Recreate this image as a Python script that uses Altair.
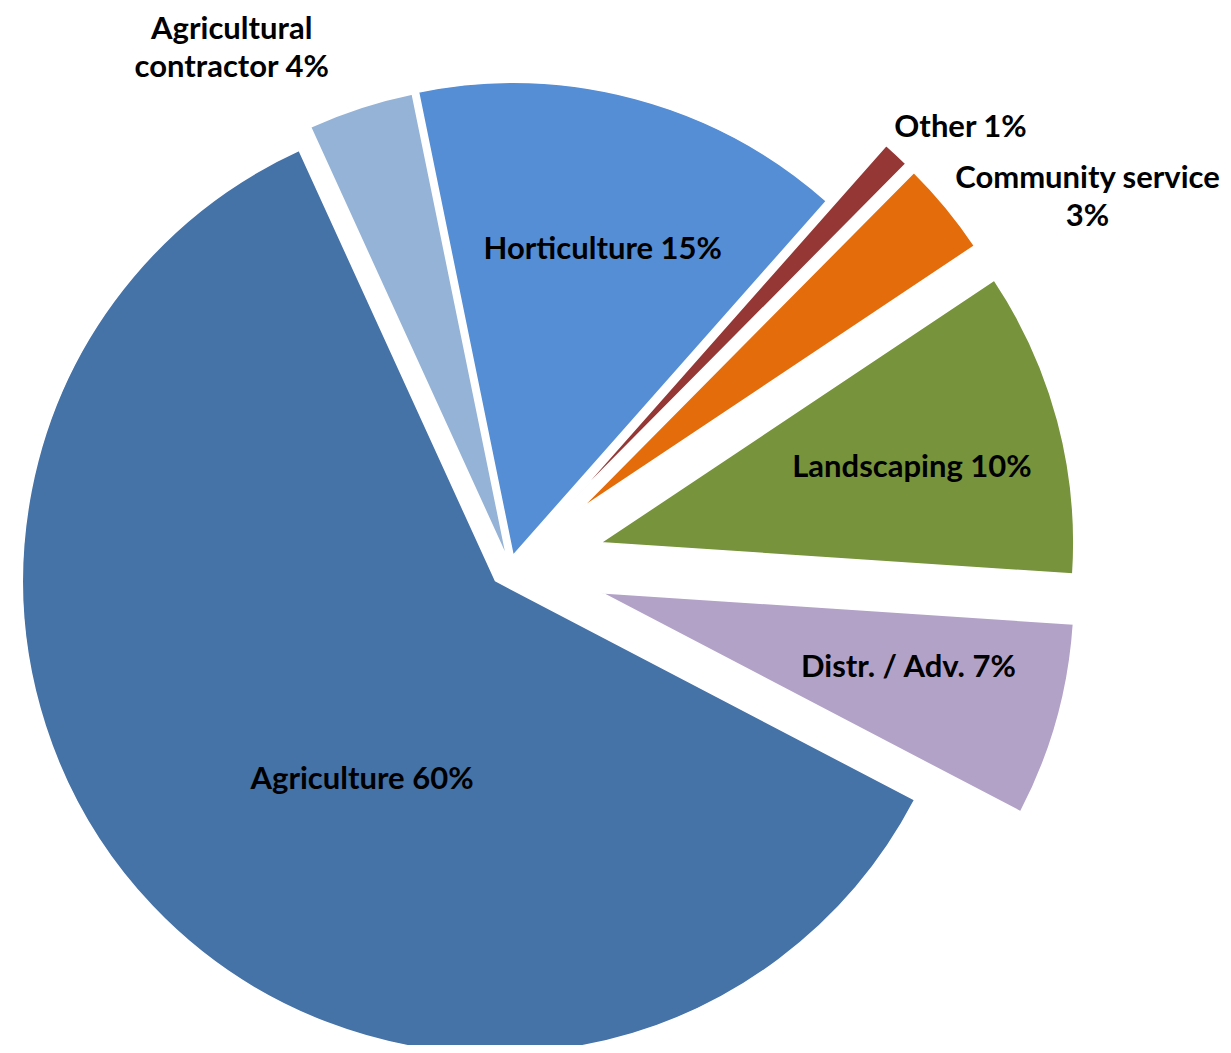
import math
import altair as alt
import pandas as pd

# ---- data (slice shares estimated from the angles; labels are rounded) ----
categories = ["Agriculture", "Agricultural contractor", "Horticulture", "Other",
              "Community service", "Landscaping", "Distr. / Adv."]
shares = [60.4, 3.6, 14.7, 0.9, 3.2, 10.4, 6.6]

# ---- style ----
colors = ["#4572A7", "#95B3D7", "#558ED5", "#953735", "#E46C0A", "#77933C", "#B3A2C7"]
explode = {"Agriculture": 20, "Agricultural contractor": 10, "Horticulture": 12,
           "Other": 92, "Community service": 92, "Landscaping": 94, "Distr. / Adv.": 95}
# label distance from slice apex and angular tweak (degrees)
label_r = {"Agriculture": 240, "Agricultural contractor": 578, "Horticulture": 318,
           "Other": 537, "Community service": 594, "Landscaping": 320, "Distr. / Adv.": 316}
label_da = {"Agriculture": -12.75, "Agricultural contractor": -10.4, "Horticulture": 1.4,
            "Other": 3.1, "Community service": 8.0, "Landscaping": 1.45, "Distr. / Adv.": -1.95}
wrap = {"Agricultural contractor": ("Agricultural\ncontractor", " "),
        "Community service": ("Community service", "\n")}

CX, CY, R = 502, 559, 473
START = math.radians(117.6)
LINE_H = 38

rows = []
for i, (c, v) in enumerate(zip(categories, shares)):
    name, sep = wrap.get(c, (c, " "))
    lab = f"{name}{sep}{round(v)}%"
    rows.append({"order": i, "category": c, "share": v, "label": lab,
                 "nl": lab.count("\n"),
                 "explode": explode[c], "lr": label_r[c], "lda": label_da[c]})
df = pd.DataFrame(rows)

base = (
    alt.Chart(df)
    .transform_window(cum="sum(share)", sort=[alt.SortField("order")], frame=[None, 0])
    .transform_joinaggregate(total="sum(share)")
    .transform_calculate(
        t0=f"{START} + 2*PI*(datum.cum - datum.share)/datum.total",
        t1=f"{START} + 2*PI*datum.cum/datum.total",
    )
    .transform_calculate(mid="(datum.t0 + datum.t1)/2")
    .transform_calculate(
        cx=f"{CX} + datum.explode*sin(datum.mid)",
        cy=f"{CY} - datum.explode*cos(datum.mid)",
        la="datum.mid + datum.lda*PI/180",
    )
    .transform_calculate(
        lx="datum.cx + datum.lr*sin(datum.la)",
        ly=f"datum.cy - datum.lr*cos(datum.la) - datum.nl*{LINE_H}/2",
    )
)

arcs = base.mark_arc(outerRadius=R, stroke="white", strokeWidth=1.5).encode(
    theta=alt.Theta("t0:Q", scale=None, stack=None),
    theta2="t1:Q",
    x=alt.X("cx:Q", scale=None, axis=None),
    y=alt.Y("cy:Q", scale=None, axis=None),
    color=alt.Color("category:N", scale=alt.Scale(domain=categories, range=colors), legend=None),
)

labels = base.mark_text(
    font="Lato", fontWeight="bold", fontSize=31, lineBreak="\n", lineHeight=LINE_H,
    align="center", baseline="middle", color="#000000",
).encode(
    x=alt.X("lx:Q", scale=None, axis=None),
    y=alt.Y("ly:Q", scale=None, axis=None),
    text="label:N",
)

chart = (
    alt.layer(arcs, labels)
    .properties(width=1215, height=1037, autosize="none", padding=0)
    .configure_view(stroke=None)
)

chart.save("out.html", embed_options={"renderer": "svg", "actions": False})
